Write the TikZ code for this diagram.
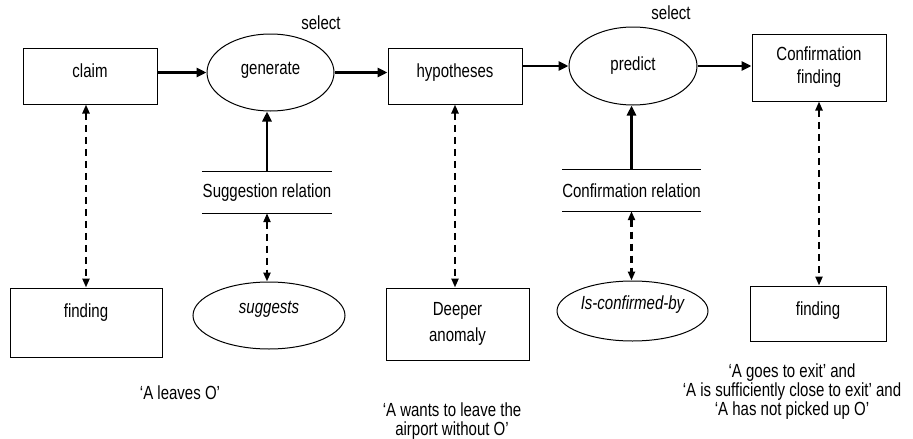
\documentclass[tikz,border=0pt]{standalone}
\usepackage{fontspec}
\setmainfont{Liberation Sans}[FakeStretch=0.79]
\usetikzlibrary{arrows.meta,shapes.geometric}

\begin{document}
\begin{tikzpicture}[x=1pt, y=-1pt,
  font=\fontsize{19}{21}\selectfont,
  box/.style={draw, line width=1pt, rectangle, inner sep=0pt, align=center},
  oval/.style={draw, line width=1pt, ellipse, inner sep=0pt, align=center},
  relbar/.style={inner sep=0pt, minimum height=41pt},
  flow/.style={-{Triangle[length=10pt,width=9pt]}, line width=2.6pt},
  link/.style={{Triangle[length=9pt,width=7pt]}-{Triangle[length=9pt,width=7pt]},
    line width=2.2pt, dash pattern=on 7pt off 5pt}]

  \useasboundingbox (0,0) rectangle (913,439);

  % --- riga superiore ---
  \node[box, minimum width=134pt, minimum height=56pt, text depth=10pt] (claim) at (90,76) {claim};
  \node[oval, minimum width=127pt, minimum height=77pt, text depth=9pt] (generate) at (270.5,72.5) {generate};
  \node (sel1) at (321,23) {select};
  \node[box, minimum width=134pt, minimum height=56pt, text depth=10pt] (hypotheses) at (455,76) {hypotheses};
  \node[oval, minimum width=128pt, minimum height=78pt] (predict) at (633,66) {predict};
  \node (sel2) at (671,13) {select};
  \node[box, minimum width=134pt, minimum height=67pt] (conffind) at (819,67.5) {Confirmation\\[2pt]finding};

  % --- relazioni ---
  \node[relbar, minimum width=130pt] (sugrel) at (267,192.5) {Suggestion relation};
  \draw[line width=1pt] (sugrel.north west) -- (sugrel.north east);
  \draw[line width=1pt] (sugrel.south west) -- (sugrel.south east);
  \node[relbar, minimum width=131pt] (confrel) at (631.5,190.5) {Confirmation relation};
  \draw[line width=1pt] (confrel.north west) -- (confrel.north east);
  \draw[line width=1pt] (confrel.south west) -- (confrel.south east);

  % --- riga inferiore ---
  \node[box, minimum width=152pt, minimum height=69pt, text depth=23pt] (finding1) at (86,322.5) {finding};
  \node[oval, minimum width=152pt, minimum height=67pt, text depth=17pt] (suggests) at (269,315.5) {\itshape suggests};
  \node[box, minimum width=143pt, minimum height=72pt] (deeper) at (457.5,324) {Deeper\\[5pt]anomaly};
  \node[oval, minimum width=151pt, minimum height=60pt, text depth=16pt] (isconf) at (632.5,311) {\itshape Is-confirmed-by};
  \node[box, minimum width=136pt, minimum height=55pt, text depth=9pt] (finding2) at (818,313.5) {finding};

  % --- esempi ---
  \node (txtleave) at (180,393) {‘A leaves O’};
  \node[align=center] (txtwant) at (452,421) {‘A wants to leave the\\[-2pt]airport without O’};
  \node[align=center] (txtexit) at (792,392) {‘A goes to exit’ and\\[-2pt]‘A is sufficiently close to exit’ and\\[-2pt]‘A has not picked up O’};

  % --- frecce principali ---
  \draw[flow] (claim.east |- generate.west) -- (generate.west);
  \draw[flow] (generate.east) -- (generate.east -| hypotheses.west);
  \draw[flow] (hypotheses.east |- predict.west) -- (predict.west);
  \draw[flow] (predict.east) -- (predict.east -| conffind.west);
  \draw[flow] (sugrel.north) -- (sugrel.north |- generate.south);
  \draw[flow] (confrel.north) -- (confrel.north |- predict.south);

  % --- collegamenti tratteggiati ---
  \draw[link] (finding1.north |- claim.south) -- (finding1.north);
  \draw[link] (sugrel.south) -- (sugrel.south |- suggests.north);
  \draw[link] (hypotheses.south) -- (hypotheses.south |- deeper.north);
  \draw[link] (confrel.south) -- (confrel.south |- isconf.north);
  \draw[link] (conffind.south) -- (conffind.south |- finding2.north);

\end{tikzpicture}
\end{document}
